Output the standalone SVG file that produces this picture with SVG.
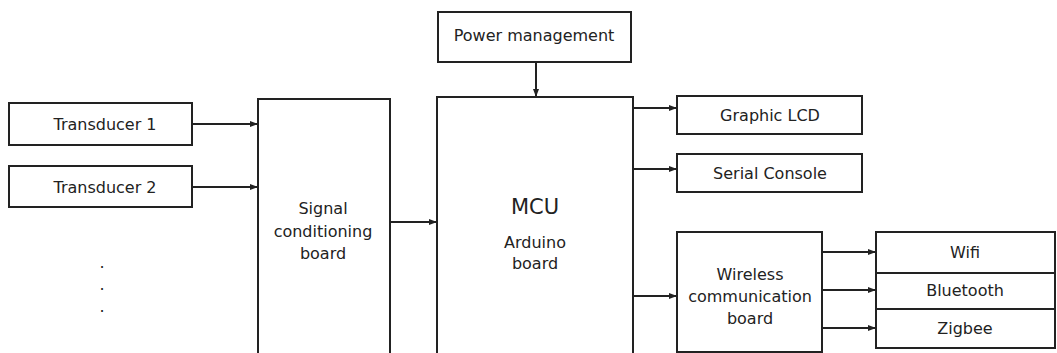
<svg xmlns="http://www.w3.org/2000/svg" width="1057" height="353" viewBox="0 0 1057 353">
<defs>
<style>
.box{fill:#fff;stroke:#222;stroke-width:2}
.t{font-family:"DejaVu Sans",Verdana,sans-serif;font-size:16px;fill:#222;text-anchor:middle;dominant-baseline:central}
.big{font-size:21px}
.c{fill:none;stroke:#222;stroke-width:2}
</style>
<marker id="ah" viewBox="0 0 8 8" refX="8" refY="4" markerWidth="8" markerHeight="8" markerUnits="userSpaceOnUse" orient="auto">
<path d="M0,1 L8,4 L0,7 Z" fill="#222"/>
</marker>
</defs>
<rect width="1057" height="353" fill="#fff"/>
<g id="connectors">
<line class="c" x1="192" y1="124" x2="258" y2="124" marker-end="url(#ah)"/>
<line class="c" x1="192" y1="187" x2="258" y2="187" marker-end="url(#ah)"/>
<line class="c" x1="390" y1="222" x2="437" y2="222" marker-end="url(#ah)"/>
<line class="c" x1="536" y1="62" x2="536" y2="97" marker-end="url(#ah)"/>
<line class="c" x1="633" y1="108" x2="677" y2="108" marker-end="url(#ah)"/>
<line class="c" x1="633" y1="169" x2="677" y2="169" marker-end="url(#ah)"/>
<line class="c" x1="633" y1="296" x2="677" y2="296" marker-end="url(#ah)"/>
<line class="c" x1="822" y1="252" x2="876" y2="252" marker-end="url(#ah)"/>
<line class="c" x1="822" y1="290" x2="876" y2="290" marker-end="url(#ah)"/>
<line class="c" x1="822" y1="328" x2="876" y2="328" marker-end="url(#ah)"/>
</g>
<g id="transducer1"><rect class="box" x="9" y="103" width="183" height="42"/><text class="t" x="105" y="124">Transducer 1</text></g>
<g id="transducer2"><rect class="box" x="9" y="166" width="183" height="41"/><text class="t" x="105" y="187">Transducer 2</text></g>
<g id="dots"><text class="t" x="102" y="262">.</text><text class="t" x="102" y="284">.</text><text class="t" x="102" y="306">.</text></g>
<g id="signal"><rect class="box" x="258" y="99" width="132" height="270"/><text class="t" x="323" y="208">Signal</text><text class="t" x="323" y="231">conditioning</text><text class="t" x="323" y="253">board</text></g>
<g id="power"><rect class="box" x="438" y="12" width="193" height="50"/><text class="t" x="534" y="35">Power management</text></g>
<g id="mcu"><rect class="box" x="437" y="97" width="196" height="272"/><text class="t big" x="535" y="207">MCU</text><text class="t" x="535" y="242">Arduino</text><text class="t" x="535" y="263">board</text></g>
<g id="lcd"><rect class="box" x="677" y="96" width="185" height="38"/><text class="t" x="770" y="115">Graphic LCD</text></g>
<g id="serial"><rect class="box" x="677" y="154" width="185" height="38"/><text class="t" x="770" y="173">Serial Console</text></g>
<g id="wireless"><rect class="box" x="677" y="232" width="145" height="120"/><text class="t" x="750" y="274">Wireless</text><text class="t" x="750" y="296">communication</text><text class="t" x="750" y="318">board</text></g>
<g id="wifi"><rect class="box" x="876" y="232" width="179" height="41"/><text class="t" x="965" y="252">Wifi</text></g>
<g id="bluetooth"><rect class="box" x="876" y="273" width="179" height="36"/><text class="t" x="965" y="290">Bluetooth</text></g>
<g id="zigbee"><rect class="box" x="876" y="309" width="179" height="39"/><text class="t" x="965" y="328">Zigbee</text></g>
</svg>
